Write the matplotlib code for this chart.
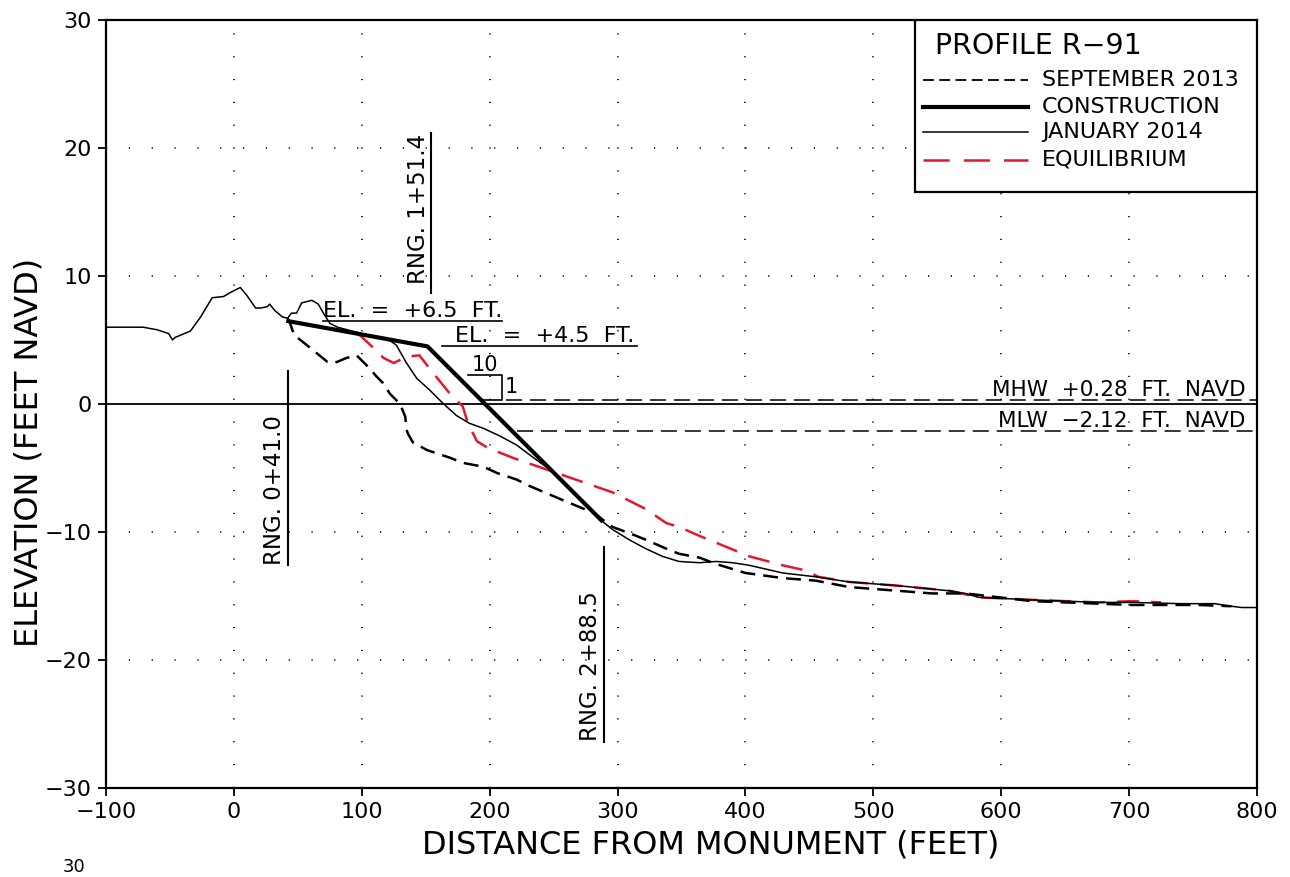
import matplotlib
matplotlib.use("Agg")
import matplotlib.pyplot as plt
from matplotlib.patches import Rectangle

plt.rcParams['font.family'] = ['DejaVu Sans']

# ---------------- data ----------------
jan_x = [-100, -71, -60, -51, -48, -46, -34, -26, -17, -8, -3, 5, 10, 17, 21, 26, 28, 32,
         38, 42, 45, 49, 53, 61, 66, 70, 75, 81, 100, 120, 127, 135, 143, 153, 163, 174,
         184, 195, 208, 221, 237, 247, 260, 273, 286, 296, 309, 322, 335, 348, 364, 377,
         390, 403, 429, 455, 481, 520, 560, 572, 582, 624, 676, 702, 741, 767, 780, 788, 800]
jan_y = [6.0, 6.0, 5.8, 5.5, 5.0, 5.2, 5.7, 6.8, 8.3, 8.4, 8.7, 9.1, 8.5, 7.5, 7.5, 7.6, 7.8, 7.3,
         6.8, 6.7, 7.1, 7.1, 7.9, 8.1, 7.8, 7.1, 6.3, 6.0, 5.5, 5.1, 4.6, 3.2, 2.0, 1.1, 0.1, -0.9,
         -1.5, -1.9, -2.5, -3.2, -4.4, -5.1, -6.4, -7.7, -9.0, -9.8, -10.6, -11.3, -11.9, -12.3, -12.4, -12.3,
         -12.4, -12.6, -13.2, -13.5, -13.9, -14.2, -14.6, -14.8, -15.1, -15.3, -15.5, -15.5, -15.6, -15.6, -15.8, -15.9, -15.9]

sep_x = [42, 44, 47, 52, 62, 73, 78, 81, 88, 96, 101, 104, 112, 117, 122, 130, 132, 134, 135,
         136, 140, 151, 169, 179, 195, 206, 221, 231, 257, 281, 296, 312, 322, 338, 348, 364,
         377, 400, 429, 455, 481, 520, 546, 572, 624, 702, 754, 780]
sep_y = [6.7, 6.3, 5.4, 5.0, 4.2, 3.3, 3.2, 3.3, 3.6, 3.8, 3.3, 3.0, 2.1, 1.6, 0.8, 0.0, -0.5, -1.0, -2.0,
         -2.3, -3.0, -3.6, -4.2, -4.6, -4.9, -5.4, -5.9, -6.4, -7.5, -8.5, -9.6, -10.2, -10.6, -11.3, -11.7, -12.0,
         -12.5, -13.2, -13.6, -13.8, -14.3, -14.6, -14.8, -14.8, -15.4, -15.7, -15.7, -15.8]

con_x = [41.0, 151.4, 288.5]
con_y = [6.5, 4.5, -9.2]

equ_x = [96, 109, 117, 125, 135, 145, 156, 169, 179, 183, 190, 198, 218, 244, 270, 296, 322,
         338, 348, 364, 403, 429, 447, 457, 481, 520, 560, 582, 624, 676, 702, 725]
equ_y = [5.6, 4.4, 3.6, 3.2, 3.7, 3.8, 2.4, 0.8, -0.2, -1.5, -2.9, -3.4, -4.2, -5.1, -6.0, -6.9, -8.2,
         -9.3, -9.6, -10.3, -11.9, -12.6, -13.0, -13.5, -13.9, -14.2, -14.6, -15.1, -15.3, -15.5, -15.4, -15.5]

mhw = 0.28
mlw = -2.12
x_ticks = [-100, 0, 100, 200, 300, 400, 500, 600, 700, 800]
y_ticks = [-30, -20, -10, 0, 10, 20, 30]

RED = '#e3182d'

# ---------------- figure ----------------
fig = plt.figure(figsize=(12.9, 8.77), dpi=100)
ax = fig.add_axes([106/1290, 1-788/877, (1257-106)/1290, (788-20)/877])
ax.set_xlim(-100, 800)
ax.set_ylim(-30, 30)
ax.set_xticks(x_ticks)
ax.set_yticks(y_ticks)
ax.tick_params(direction='out', length=6, width=1.3, labelsize=16, pad=4)
for s in ax.spines.values():
    s.set_linewidth(1.6)

# dotted grid
dot_ls = (0, (0.7, 13.0))
for xv in x_ticks[1:-1]:
    ax.axvline(xv, color='black', lw=1.2, ls=dot_ls, zorder=1)
for yv in [-20, -10, 10, 20]:
    ax.axhline(yv, color='black', lw=1.2, ls=dot_ls, zorder=1)
ax.axhline(0, color='black', lw=1.3, zorder=2)

# tidal lines
ax.plot([213, 800], [mhw, mhw], color='black', lw=1.1, ls=(0, (10.5, 5.2)), zorder=2)
ax.plot([221, 800], [mlw, mlw], color='black', lw=1.1, ls=(0, (10.5, 5.2)), zorder=2)
ax.annotate('MHW  +0.28  FT.  NAVD', xy=(791, mhw), xytext=(0, 3), textcoords='offset points',
            ha='right', va='baseline', fontsize=15.5)
ax.annotate('MLW  \u22122.12  FT.  NAVD', xy=(791, mlw), xytext=(0, 3), textcoords='offset points',
            ha='right', va='baseline', fontsize=15.5)

# profiles
ax.plot(equ_x, equ_y, color=RED, lw=1.8, ls=(0, (8.8, 4.8)), zorder=3)
ax.plot(sep_x, sep_y, color='black', lw=1.8, ls=(0, (6, 3.2)), zorder=4)
ax.plot(jan_x, jan_y, color='black', lw=1.1, zorder=5)
ax.plot(con_x, con_y, color='black', lw=3.0, zorder=6, solid_capstyle='butt')

# elevation annotations
ax.plot([70, 210], [6.5, 6.5], color='black', lw=1.2)
ax.annotate('EL.  =  +6.5  FT.', xy=(70, 6.5), xytext=(0, 3), textcoords='offset points',
            ha='left', va='baseline', fontsize=16)
ax.plot([163, 315], [4.5, 4.5], color='black', lw=1.2)
ax.annotate('EL.  =  +4.5  FT.', xy=(173, 4.5), xytext=(0, 3), textcoords='offset points',
            ha='left', va='baseline', fontsize=16)

# slope triangle 10:1
ax.text(196, 2.3, '10', ha='center', va='bottom', fontsize=15)
ax.plot([183, 209.5, 209.5, 193.6], [2.3, 2.3, mhw, mhw], color='black', lw=1.2)
ax.text(212, 1.3, '1', ha='left', va='center', fontsize=15)

# range lines
def rng(x, y0, y1, label, ystart):
    ax.plot([x, x], [y0, y1], color='black', lw=1.5)
    ax.annotate(label, xy=(x, ystart), xytext=(-5, 0), textcoords='offset points',
                rotation=90, rotation_mode='anchor', ha='left', va='baseline', fontsize=16.5)

rng(42.5, 2.6, -12.6, 'RNG. 0+41.0', -12.6)
rng(154.5, 21.2, 8.7, 'RNG. 1+51.4', 9.4)
rng(289.5, -11.2, -26.4, 'RNG. 2+88.5', -26.3)

# legend box
ax.add_patch(Rectangle((0.703, 0.776), 0.297, 0.224, transform=ax.transAxes,
                       facecolor='white', edgecolor='black', lw=1.6, zorder=10))
ax.text(0.720, 0.966, 'PROFILE R\u221291', transform=ax.transAxes, ha='left', va='center',
        fontsize=20.5, zorder=11)
rows = [(0.922, 'SEPTEMBER 2013', dict(color='black', lw=1.3, ls=(0, (6.0, 3.0)))),
        (0.887, 'CONSTRUCTION', dict(color='black', lw=3.0)),
        (0.854, 'JANUARY 2014', dict(color='black', lw=1.1)),
        (0.818, 'EQUILIBRIUM', dict(color=RED, lw=1.8, ls=(0, (10.5, 5.6))))]
for yy, lab, st in rows:
    ax.plot([0.710, 0.801], [yy, yy], transform=ax.transAxes, zorder=11, **st)
    ax.text(0.813, yy, lab, transform=ax.transAxes, ha='left', va='center', fontsize=16, zorder=11)

ax.set_xlabel('DISTANCE FROM MONUMENT (FEET)', fontsize=23)
ax.set_ylabel('ELEVATION (FEET NAVD)', fontsize=23)
ax.xaxis.set_label_coords((711 - 106) / 1151, -(845 - 788) / 768)
ax.yaxis.set_label_coords(-(106 - 29) / 1151, (788 - 452) / 768)
ax.xaxis.label.set_va('center')
ax.yaxis.label.set_va('center')

fig.text(63/1290, 1-858/877, '30', ha='left', va='top', fontsize=13)

fig.savefig('out.png', dpi=100)
